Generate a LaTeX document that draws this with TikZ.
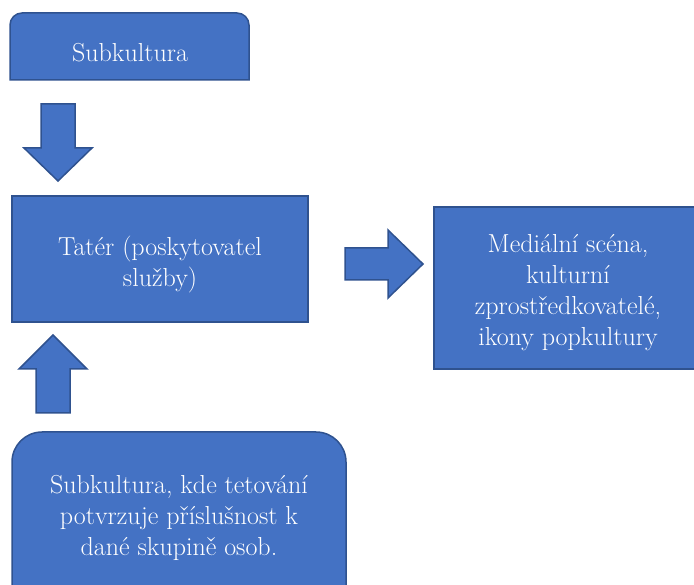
\documentclass[tikz,border=0pt]{standalone}
\usepackage{fontspec}
\definecolor{boxfill}{HTML}{4472C4}
\definecolor{boxline}{HTML}{2F528F}
\tikzset{
  shapefill/.style={fill=boxfill, draw=boxline, line width=1.5pt, line join=miter},
  boxtext/.style={text=white, align=center, inner sep=0pt,
    font=\fontsize{26}{31}\selectfont\addfontfeature{FakeBold=0.3}},
}
\begin{document}
\begin{tikzpicture}[x=1pt, y=-1pt]
\useasboundingbox (0,0) rectangle (694,585);
\clip (0,0) rectangle (694,585);
% box 1: rounded top corners
\draw[shapefill] (10,80) [rounded corners=12pt]-- (10,13) -- (249,13) [sharp corners]-- (249,80) -- cycle;
\node[boxtext, anchor=base] (sub) at (130,62) {Subkultura};
% down arrow
\draw[shapefill] (41,104) -- (75,104) -- (75,148) -- (92,148) -- (58,181) -- (24,148) -- (41,148) -- cycle;
% box 2
\draw[shapefill] (12,196) rectangle (308,322);
\node[boxtext] (tater) at (160,265) {Tatér (poskytovatel\\služby)};
% right arrow
\draw[shapefill] (345,248) -- (388,248) -- (388,230) -- (423,264) -- (388,298) -- (388,280) -- (345,280) -- cycle;
% box 3
\draw[shapefill] (434,207) rectangle (702,369);
\node[boxtext] (media) at (568,293) {Mediální scéna,\\kulturní\\zprostředkovatelé,\\ikony popkultury};
% up arrow
\draw[shapefill] (53,335) -- (87,369) -- (70,369) -- (70,413) -- (36,413) -- (36,369) -- (19,369) -- cycle;
% box 4: rounded top corners
\draw[shapefill] (12,610) [rounded corners=30pt]-- (12,432) -- (346,432) [sharp corners]-- (346,610) -- cycle;
\node[boxtext] (tetov) at (179,518) {Subkultura, kde tetování\\potvrzuje příslušnost k\\dané skupině osob.};
\end{tikzpicture}
\end{document}
